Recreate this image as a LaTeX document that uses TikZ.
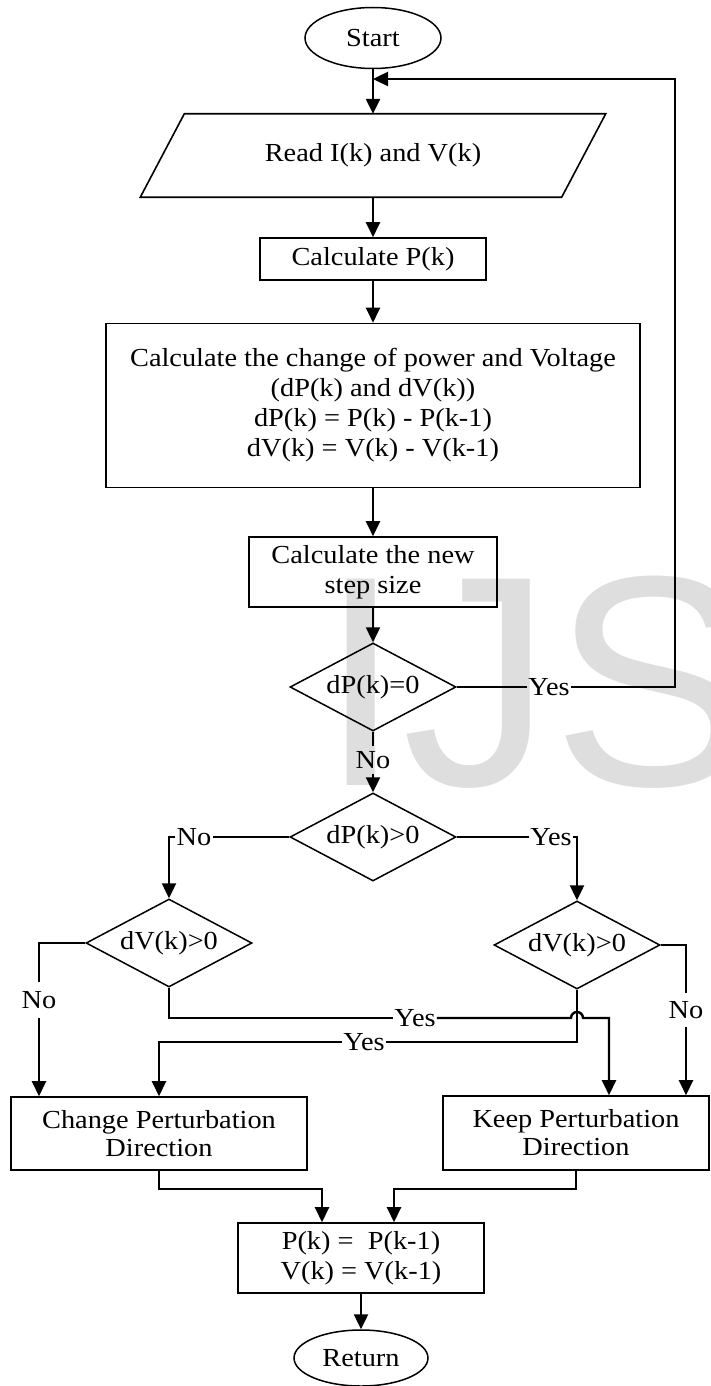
\documentclass[tikz,border=0pt]{standalone}
\usepackage{fontspec}
\setmainfont{Liberation Serif}[FakeStretch=1.09]
\newfontfamily\wmfont{Liberation Sans}
\usetikzlibrary{arrows.meta,shapes.geometric,calc}
\definecolor{wmgray}{RGB}{222,222,222}
\begin{document}
\begin{tikzpicture}[x=1pt,y=-1pt,
  every node/.style={font=\fontsize{26}{30}\selectfont},
  box/.style={draw, line width=1.6pt, rectangle, inner sep=0pt, align=center},
  dia/.style={draw, line width=1.5pt, diamond, aspect=1.9, inner sep=0pt, minimum width=166pt, minimum height=88pt},
  term/.style={draw, line width=1.5pt, ellipse, inner sep=0pt},
  conn/.style={line width=2.4pt},
  arr/.style={conn, -{Triangle[length=15pt,width=14pt]}},
  lbl/.style={inner sep=1pt},
  two/.style={font=\fontsize{26}{28}\selectfont}
]
\fill[white] (0,0) rectangle (710,1386);
\useasboundingbox (0,0) rectangle (710,1386);
\begin{scope}
\clip (0,0) rectangle (710,1386);
\node[anchor=base west, inner sep=0pt, text=wmgray, font=\fontsize{300}{300}\selectfont\wmfont] (wm) at (319,785) {IJS};
\end{scope}

% nodes
\node[term, minimum width=136pt, minimum height=61pt] (start) at (373,38) {Start};
\node[inner sep=0pt, minimum width=421pt, minimum height=83pt] (read) at (373,155.5) {Read I(k) and V(k)};
\draw[line width=1.6pt] ([xshift=22pt]read.north west) -- ([xshift=22pt]read.north east) -- ([xshift=-22pt]read.south east) -- ([xshift=-22pt]read.south west) -- cycle;
\node[box, minimum width=226pt, minimum height=42pt] (calcP) at (373,259) {Calculate P(k)};
\node[box, minimum width=534pt, minimum height=164pt] (chg) at (373,405.5) {Calculate the change of power and Voltage\\(dP(k) and dV(k))\\dP(k) = P(k) - P(k-1)\\dV(k) = V(k) - V(k-1)};
\node[box, minimum width=248pt, minimum height=70pt] (step) at (373,572) {Calculate the new\\step size};
\node[dia] (d0) at (373,687) {dP(k)=0};
\node[lbl, inner ysep=5pt] (no0) at (373,760) {No};
\node[dia] (d1) at (373,837) {dP(k)>0};
\node[dia] (dvl) at (169,943) {dV(k)>0};
\node[dia] (dvr) at (577,945) {dV(k)>0};
\node[box, two, minimum width=296pt, minimum height=73pt] (cpd) at (159,1133.5) {Change Perturbation\\Direction};
\node[box, two, minimum width=266pt, minimum height=74pt] (kpd) at (576,1133) {Keep Perturbation\\Direction};
\node[box, minimum width=246pt, minimum height=70pt] (upd) at (361,1258) {P(k) = \ P(k-1)\\V(k) = V(k-1)};
\node[term, minimum width=134pt, minimum height=56pt] (ret) at (361,1358) {Return};

% labels
\node[lbl] (y0) at (549,687) {Yes};
\node[lbl] (n1) at (194,837) {No};
\node[lbl] (y1) at (551,837) {Yes};
\node[lbl, inner ysep=9pt] (n2) at (39,1000) {No};
\node[lbl, inner ysep=8pt] (n3) at (686,1010) {No};
\node[lbl] (y2) at (415,1018) {Yes};
\node[lbl] (y3) at (364,1042) {Yes};

% coordinates
\coordinate (loopin) at (373,79);
\coordinate (loopc) at (675,79);
\coordinate (hop) at (577,1018);
\coordinate (k1) at (609,1018);
\coordinate (c1) at (159,1042);
\coordinate (m1) at (322,1189);
\coordinate (m2) at (394,1189);

% connectors
\draw[arr] (start.south) -- (read.north);
\draw[conn] (d0.east) -- (y0.west);
\draw[arr] (y0.east) -| (loopc) -- (loopin);
\draw[arr] (read.south) -- (calcP.north);
\draw[arr] (calcP.south) -- (chg.north);
\draw[arr] (chg.south) -- (step.north);
\draw[arr] (step.south) -- (d0.north);
\draw[conn] (d0.south) -- (no0.north);
\draw[arr] (no0.south) -- (d1.north);
\draw[conn] (d1.west) -- (n1.east);
\draw[arr] (n1.west) -| (dvl.north);
\draw[conn] (d1.east) -- (y1.west);
\draw[arr] (y1.east) -| (dvr.north);
\draw[conn] (dvl.west) -| (n2.north);
\draw[arr] (n2.south) -- (n2.south |- cpd.north);
\draw[conn] (dvr.east) -| (n3.north);
\draw[arr] (n3.south) -- (n3.south |- kpd.north);
\draw[conn] (dvl.south) |- (y2.west);
\draw[arr] (y2.east) -- ([xshift=-6pt]hop) arc[start angle=180, end angle=0, radius=6pt] -- (k1) -- (k1 |- kpd.north);
\draw[conn] (dvr.south) |- (y3.east);
\draw[arr] (y3.west) -- (c1) -- (c1 |- cpd.north);
\draw[arr] (cpd.south) |- (m1) -- (m1 |- upd.north);
\draw[arr] (kpd.south) |- (m2) -- (m2 |- upd.north);
\draw[arr] (upd.south) -- (ret.north);
\end{tikzpicture}
\end{document}
